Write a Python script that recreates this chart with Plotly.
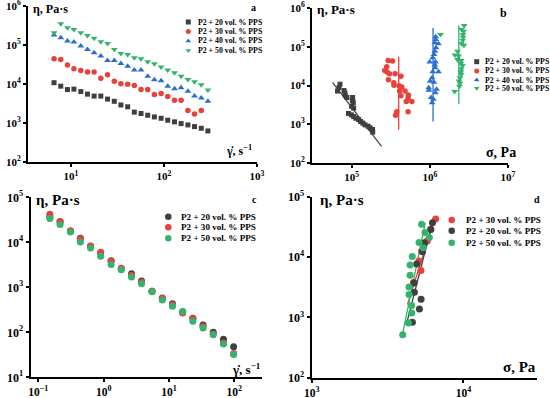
import plotly.graph_objects as go

W, H = 550, 398

# ---------------- data ----------------
# panel a: viscosity vs shear rate
shear_a = [6.6, 7.8, 9.2, 10.8, 12.8, 15.1, 17.8, 21.0, 24.8, 29.3, 34.5, 40.8,
           48.1, 56.8, 67.0, 79.0, 93.3, 110, 130, 153, 181, 213, 252, 297]
eta_a_20 = [10800, 8800, 7200, 7400, 6400, 5500, 4900, 4900, 4100, 3600, 2900, 2600,
            1900, 1750, 1580, 1430, 1320, 1180, 1070, 966, 893, 809, 733, 626]
eta_a_30 = [44400, 42700, 30500, 24500, 22200, 20200, 20200, 14100, 17200, 11800, 10100, 9900,
            9100, 7200, 7200, 5400, 5700, 4800, 3850, 3850, 2090, 1710, 2090]
eta_a_40 = [180000, 153000, 126000, 119000, 93800, 77000, 63300, 51900, 40200, 40200, 33600, 28700,
            22700, 22700, 15900, 12800, 12100, 8800, 7500, 8000, 6500, 4900, 4400, 3600]
eta_a_50 = [207000, 352000, 277000, 251000, 207000, 176000, 148000, 121000, 110000, 77000, 60800, 57300,
            47000, 44400, 37100, 33000, 27100, 22700, 19400, 15900, 13100, 11400, 9500, 7000]

# panel b: viscosity vs shear stress
stress_b_20 = [71000, 69000, 66000, 80000, 82000, 83000, 87000, 103000, 102000, 105000, 100000, 106000,
               91000, 99000, 106000, 113000, 123000, 130000, 139000, 148000, 162000, 172000, 185000, 186000]
stress_b_30 = [293000, 333000, 281000, 265000, 284000, 305000, 360000, 296000, 427000, 346000, 348000, 404000,
               438000, 409000, 482000, 427000, 532000, 528000, 500000, 589000, 378000, 364000, 527000]
stress_b_40 = [1190000, 1190000, 1160000, 1290000, 1200000, 1160000, 1130000, 1090000, 997000, 1180000, 1160000, 1170000,
               1090000, 1290000, 1070000, 1010000, 1130000, 968000, 975000, 1220000, 1180000, 1040000, 1110000, 1070000]
stress_b_50 = [1370000, 2750000, 2550000, 2710000, 2650000, 2660000, 2630000, 2540000, 2730000, 2260000, 2100000, 2340000,
               2260000, 2520000, 2490000, 2610000, 2530000, 2500000, 2520000, 2430000, 2370000, 2430000, 2390000, 2080000]
fit_b_20_x, fit_b_20_y = [57000, 241000], [12000, 270]
fit_b_30_x, fit_b_30_y = [400000, 400000], [56000, 720]
fit_b_40_x, fit_b_40_y = [1100000, 1100000], [306000, 1180]
fit_b_50_x, fit_b_50_y = [2350000, 2350000], [359000, 3300]

# panel c
shear_c = [0.15, 0.215, 0.31, 0.44, 0.63, 0.9, 1.3, 1.86, 2.67, 3.8, 5.5, 7.9,
           11.3, 16.2, 23.2, 33.2, 47.6, 68.2, 97.7]
eta_c_20 = [37000, 28500, 17500, 12300, 8200, 5800, 3900, 2600, 2000, 1380, 820, 580,
            430, 285, 205, 145, 100, 70, 48]
eta_c_30 = [42000, 29000, 18000, 12000, 8300, 6000, 3800, 2650, 1850, 1300, 820, 570,
            410, 270, 200, 135, 92, 58, 34]
eta_c_50 = [34000, 25000, 17000, 10200, 7500, 4900, 3200, 2450, 1700, 1200, 800, 520,
            380, 290, 175, 125, 88, 55, 32]

# panel d
stress_d_30 = [6560, 6080, 5780, 5300, 5090, 5250, 4680]
eta_d_30 = [42500, 28900, 18500, 12600, 8600, 6000, 3800]
stress_d_20 = [6250, 6100, 5530, 5370, 4920, 4730, 4750, 5260, 5130, 4610]
eta_d_20 = [37000, 28500, 17300, 12200, 7700, 3700, 2600, 2000, 1380, 830]
stress_d_50 = [5300, 5580, 5960, 5100, 5440, 4600, 4450, 4450, 4380, 4380, 4560, 4560, 4340, 3980]
eta_d_50 = [35000, 25500, 21000, 17400, 14300, 10200, 7400, 5000, 3200, 2400, 1570, 1180, 807, 515]
fit_d_30_x, fit_d_30_y = [4280, 6500], [1630, 45000]
fit_d_20_x, fit_d_20_y = [4230, 6340], [805, 42500]
fit_d_50_x, fit_d_50_y = [3990, 5600], [560, 37000]

labels = {20: "P2 + 20 vol. % PPS", 30: "P2 + 30 vol. % PPS",
          40: "P2 + 40 vol. % PPS", 50: "P2 + 50 vol. % PPS"}

# tick exponents per axis
exp_a_x, exp_a_y = [1, 2, 3], [2, 3, 4, 5, 6]
exp_b_x, exp_b_y = [5, 6, 7], [2, 3, 4, 5, 6]
exp_c_x, exp_c_y = [-1, 0, 1, 2], [1, 2, 3, 4, 5]
exp_d_x, exp_d_y = [3, 4], [2, 3, 4, 5]

# ---------------- style ----------------
GRAY = "#3f3f3f"
RED = "#e8413c"
BLUE = "#2a6fd0"
GREEN = "#33b36b"
FONT = "Liberation Serif"

fig = go.Figure()


def pts(x, y, ax, color, symbol, size):
    fig.add_trace(go.Scatter(x=x, y=y, xaxis="x" + ax, yaxis="y" + ax, mode="markers",
                             marker=dict(color=color, symbol=symbol, size=size, line=dict(width=0)),
                             showlegend=False, hoverinfo="skip", cliponaxis=False))


def line(x, y, ax, color, width=1.3):
    fig.add_trace(go.Scatter(x=x, y=y, xaxis="x" + ax, yaxis="y" + ax, mode="lines",
                             line=dict(color=color, width=width),
                             showlegend=False, hoverinfo="skip"))


# panel a
pts(shear_a[:len(eta_a_20)], eta_a_20, "", GRAY, "square", 5)
pts(shear_a[:len(eta_a_30)], eta_a_30, "", RED, "circle", 5.5)
pts(shear_a[:len(eta_a_40)], eta_a_40, "", BLUE, "triangle-up", 6)
pts(shear_a[:len(eta_a_50)], eta_a_50, "", GREEN, "triangle-down", 6)

# panel b
line(fit_b_20_x, fit_b_20_y, "2", GRAY, 1.2)
line(fit_b_30_x, fit_b_30_y, "2", RED)
line(fit_b_40_x, fit_b_40_y, "2", BLUE)
line(fit_b_50_x, fit_b_50_y, "2", GREEN)
pts(stress_b_20, eta_a_20, "2", GRAY, "square", 5)
pts(stress_b_30, eta_a_30, "2", RED, "circle", 5.5)
pts(stress_b_40, eta_a_40, "2", BLUE, "triangle-up", 6)
pts(stress_b_50, eta_a_50, "2", GREEN, "triangle-down", 6)

# panel c
pts(shear_c, eta_c_20, "3", GRAY, "circle", 7)
pts(shear_c, eta_c_30, "3", RED, "circle", 7)
pts(shear_c, eta_c_50, "3", GREEN, "circle", 7)

# panel d
line(fit_d_30_x, fit_d_30_y, "4", RED)
line(fit_d_20_x, fit_d_20_y, "4", GRAY)
line(fit_d_50_x, fit_d_50_y, "4", GREEN)
pts(stress_d_30, eta_d_30, "4", RED, "circle", 7)
pts(stress_d_20, eta_d_20, "4", GRAY, "circle", 7)
pts(stress_d_50, eta_d_50, "4", GREEN, "circle", 7)


# ---------------- axes ----------------
def axis(rng, dom, anchor, tsize, exps):
    return dict(type="log", range=rng, domain=dom, anchor=anchor, showline=True, linewidth=2,
                linecolor="black", ticks="outside", ticklen=3, tickwidth=1.5, tickcolor="black",
                showgrid=False, zeroline=False, automargin=False, ticklabeloverflow="allow",
                tickmode="array", tickvals=[10 ** e for e in exps],
                ticktext=["10<sup>%s</sup>" % (str(e).replace("-", "−")) for e in exps],
                tickfont=dict(family=FONT, size=tsize, color="black", weight="bold"))


def xd(a, b):
    return [a / W, b / W]


def yd(top, bottom):
    return [1 - bottom / H, 1 - top / H]


layout = dict(
    template="none",
    width=W, height=H, margin=dict(l=0, r=0, t=0, b=0, autoexpand=False),
    paper_bgcolor="white", plot_bgcolor="rgba(0,0,0,0)", showlegend=False,
    xaxis=axis([0.54, 3.0], xd(28, 257), "y", 11, exp_a_x),
    yaxis=axis([2, 6], yd(6, 162), "x", 11, exp_a_y),
    xaxis2=axis([4.493, 7.0], xd(312, 508), "y2", 11, exp_b_x),
    yaxis2=axis([2, 6], yd(8, 163), "x2", 11, exp_b_y),
    xaxis3=axis([-1.117, 2.424], xd(30.7, 262), "y3", 11.5, exp_c_x),
    yaxis3=axis([1, 5], yd(197.3, 377.3), "x3", 12, exp_c_y),
    xaxis4=axis([3, 4.483], xd(311.7, 536.7), "y4", 11.5, exp_d_x),
    yaxis4=axis([2, 5], yd(196.7, 377.7), "x4", 12, exp_d_y),
    xaxis5=dict(domain=[0, 1], range=[0, W], visible=False, anchor="y5", fixedrange=True, automargin=False),
    yaxis5=dict(domain=[0, 1], range=[H, 0], visible=False, anchor="x5", fixedrange=True, automargin=False),
)
fig.update_layout(**layout)

annotations = []


def txt(text, x, y, size, xanchor="left"):
    annotations.append(dict(text=text, x=x / W, y=1 - y / H, xref="paper", yref="paper",
                            xanchor=xanchor, yanchor="middle", showarrow=False,
                            font=dict(family=FONT, size=size, color="black", weight="bold")))


# axis titles & panel letters
txt("η, Pa·s", 31, 9, 12)
txt("γ̇, s<sup>−1</sup>", 254, 150, 12, "right")
txt("a", 253, 8, 10, "center")
txt("η, Pa·s", 315, 9, 13)
txt("σ, Pa", 518, 152, 14, "right")
txt("b", 503, 13, 12, "center")
txt("η, Pa·s", 34, 200, 15)
txt("γ̇, s<sup>−1</sup>", 263, 369, 13, "right")
txt("c", 254, 200, 10, "center")
txt("η, Pa·s", 318, 200, 15)
txt("σ, Pa", 538, 367, 15, "right")
txt("d", 537, 200, 10, "center")


# custom legends (marker on overlay axis + text annotation)
def legend(entries, mx, tx, rows, fsize, msize):
    for (key, color, symbol), ry in zip(entries, rows):
        fig.add_trace(go.Scatter(x=[mx], y=[ry], xaxis="x5", yaxis="y5", mode="markers",
                                 marker=dict(color=color, symbol=symbol, size=msize, line=dict(width=0)),
                                 showlegend=False, hoverinfo="skip"))
        txt(labels[key], tx, ry, fsize)


legend([(20, GRAY, "square"), (30, RED, "circle"), (40, BLUE, "triangle-up"), (50, GREEN, "triangle-down")],
       188.3, 196, [22, 31.5, 41, 50.5], 7.8, 5)
legend([(20, GRAY, "square"), (30, RED, "circle"), (40, BLUE, "triangle-up"), (50, GREEN, "triangle-down")],
       476.7, 483, [61.7, 71, 80, 88.3], 7.8, 5)
legend([(20, GRAY, "circle"), (30, RED, "circle"), (50, GREEN, "circle")],
       168.3, 179, [216.7, 227.3, 238.3], 9.1, 6.5)
legend([(30, RED, "circle"), (20, GRAY, "circle"), (50, GREEN, "circle")],
       451.7, 463.5, [220, 230.7, 242.7], 9.1, 6.5)

fig.update_layout(annotations=annotations)
fig.write_html("out.html", config={"displayModeBar": False},
               post_script="document.body.style.margin='0';document.body.style.overflow='hidden';")
